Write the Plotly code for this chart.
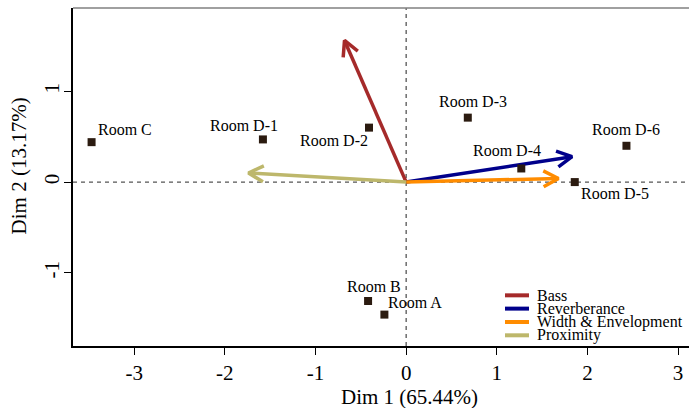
import math
import plotly.graph_objects as go

# Individuals (rooms) on the first two dimensions
rooms = ["Room A", "Room B", "Room C", "Room D-1", "Room D-2", "Room D-3",
         "Room D-4", "Room D-5", "Room D-6"]
dim1 = [-0.24, -0.42, -3.47, -1.58, -0.41, 0.68, 1.27, 1.86, 2.43]
dim2 = [-1.46, -1.31, 0.44, 0.47, 0.60, 0.71, 0.15, 0.00, 0.40]

# Supplementary variables drawn as arrows from the origin
variables = ["Bass", "Reverberance", "Width & Envelopment", "Proximity"]
var_dim1 = [-0.68, 1.83, 1.68, -1.74]
var_dim2 = [1.56, 0.28, 0.04, 0.10]
var_colors = ["#A52A2A", "#00008B", "#FF8C00", "#BDB76B"]

x_ticks = [-3, -2, -1, 0, 1, 2, 3]
x_tick_text = ["-3", "-2", "-1", "0", "1", "2", "3"]
y_ticks = [-1, 0, 1]
y_tick_text = ["-1", "0", "1"]

# Plot geometry (pixels)
W, H = 689, 408
L, R, T, B = 73, 0, 7.5, 62.3
PW, PH = W - L - R, H - T - B
XR = [-3.675, 3.12]
YR = [-1.806, 1.918]
SX = PW / (XR[1] - XR[0])
SY = PH / (YR[1] - YR[0])

FONT = "Liberation Serif"


def px_paper(px, py):
    return (px - L) / PW, (H - B - py) / PH


fig = go.Figure()

# Reference lines through the origin
fig.add_hline(y=0, line=dict(color="#555555", width=1.3, dash="4px,4px"), layer="below")
fig.add_vline(x=0, line=dict(color="#555555", width=1.3, dash="4px,4px"), layer="below")

# Variable arrows with open V heads
head_len, head_ang = 17, math.radians(28)
for name, vx, vy, col in zip(variables, var_dim1, var_dim2, var_colors):
    ang = math.atan2(vy * SY, vx * SX)
    wings_x, wings_y = [], []
    for s in (1, -1):
        a = ang + math.pi + s * head_ang
        wings_x.append(vx + head_len * math.cos(a) / SX)
        wings_y.append(vy + head_len * math.sin(a) / SY)
    fig.add_trace(go.Scatter(
        x=[0, vx, None, wings_x[0], vx, wings_x[1]],
        y=[0, vy, None, wings_y[0], vy, wings_y[1]],
        mode="lines", line=dict(color=col, width=3.5),
        hoverinfo="skip", showlegend=False, name=name))

# Room points
fig.add_trace(go.Scatter(
    x=dim1, y=dim2, mode="markers", text=rooms,
    marker=dict(symbol="square", size=8, color="#2b1b10"),
    showlegend=False))

# Room labels, offset in pixels from their points
label_offsets = {
    "Room A": (31, 12), "Room B": (6, 14), "Room C": (33, 13),
    "Room D-1": (-19, 13.5), "Room D-2": (-35, -12.7), "Room D-3": (5, 15.7),
    "Room D-4": (-14, 17.8), "Room D-5": (40, -11.5), "Room D-6": (0, 16.5),
}
for name, x, y in zip(rooms, dim1, dim2):
    dx, dy = label_offsets[name]
    fig.add_annotation(x=x, y=y, text=name, showarrow=False,
                       xshift=dx, yshift=dy, xanchor="center", yanchor="middle",
                       font=dict(family=FONT, size=16, color="black"))

# Legend drawn as swatches + text
leg_rows = [295, 308.3, 321.7, 335]
for name, col, py in zip(variables, var_colors, leg_rows):
    x0, y0 = px_paper(505, py)
    x1, _ = px_paper(529, py)
    fig.add_shape(type="line", xref="paper", yref="paper", x0=x0, x1=x1, y0=y0, y1=y0,
                  line=dict(color=col, width=4))
    tx, _ = px_paper(535, py)
    fig.add_annotation(xref="paper", yref="paper", x=tx, y=y0, text=name,
                       showarrow=False, xanchor="left", yanchor="middle",
                       font=dict(family=FONT, size=16, color="black"))

# Gray frame on top and upper-left
fig.add_shape(type="line", xref="paper", yref="paper", x0=0, x1=1, y0=1, y1=1,
              line=dict(color="#808080", width=1.5))

# Axis titles
tx, ty = px_paper(409, 397)
fig.add_annotation(xref="paper", yref="paper", x=tx, y=ty, text="Dim 1 (65.44%)",
                   showarrow=False, xanchor="center", yanchor="middle",
                   font=dict(family=FONT, size=21, color="black"))
tx, ty = px_paper(19, 166)
fig.add_annotation(xref="paper", yref="paper", x=tx, y=ty, text="Dim 2 (13.17%)",
                   showarrow=False, xanchor="center", yanchor="middle", textangle=-90,
                   font=dict(family=FONT, size=21, color="black"))

fig.update_layout(
    width=W, height=H,
    margin=dict(l=L, r=R, t=T, b=B),
    paper_bgcolor="white", plot_bgcolor="white",
    font=dict(family=FONT, size=21, color="black"),
    showlegend=False,
    xaxis=dict(range=XR, tickvals=x_ticks, ticktext=x_tick_text, ticks="outside",
               ticklen=7, tickcolor="black", showgrid=False, zeroline=False,
               showline=True, linecolor="black", linewidth=1.5,
               tickfont=dict(family=FONT, size=21, color="black")),
    yaxis=dict(range=YR, tickvals=y_ticks, ticktext=y_tick_text, ticks="outside",
               ticklen=7, tickcolor="black", showgrid=False, zeroline=False,
               showline=True, linecolor="black", linewidth=1.5, tickangle=-90,
               ticklabelstandoff=-3,
               tickfont=dict(family=FONT, size=21, color="black")),
)

fig.write_html("out.html")
